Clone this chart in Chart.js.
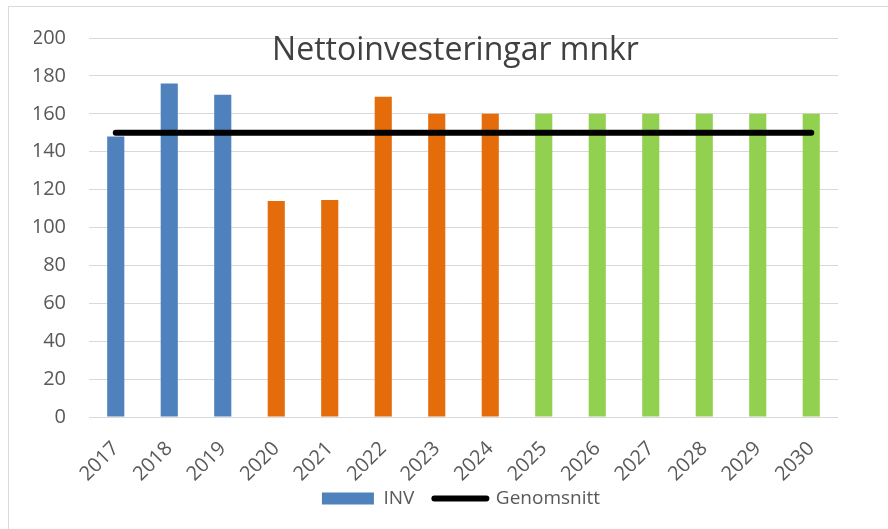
<!DOCTYPE html>
<html>
<head>
<meta charset="utf-8">
<script src="https://cdn.jsdelivr.net/npm/chart.js@4/dist/chart.umd.min.js"></script>
<style>
  html, body { margin: 0; padding: 0; background: #ffffff; overflow: hidden; }
  #wrap { position: relative; width: 888px; height: 529px; }
  #frame { position: absolute; left: 8px; top: 6px; width: 900px; height: 600px; border: 1px solid #d9d9d9; box-sizing: border-box; }
  canvas { position: absolute; left: 0; top: 0; }
</style>
</head>
<body>
<div id="wrap">
  <div id="frame"></div>
  <canvas id="c" width="888" height="529"></canvas>
</div>
<script>
const categories = ['2017','2018','2019','2020','2021','2022','2023','2024','2025','2026','2027','2028','2029','2030'];
const invValues = [148, 176, 170, 114, 114.5, 169, 160, 160, 160, 160, 160, 160, 160, 160];
const averageValues = [150, 150, 150, 150, 150, 150, 150, 150, 150, 150, 150, 150, 150, 150];
const yTicks = [0, 20, 40, 60, 80, 100, 120, 140, 160, 180, 200];
const chartTitle = 'Nettoinvesteringar mnkr';
const seriesNames = ['INV', 'Genomsnitt'];

const BLUE = '#4F81BD', ORANGE = '#E46C0A', GREEN = '#92D050';
const barColors = [BLUE, BLUE, BLUE, ORANGE, ORANGE, ORANGE, ORANGE, ORANGE, GREEN, GREEN, GREEN, GREEN, GREEN, GREEN];

const FONT = "'Open Sans', 'Liberation Sans', sans-serif";

const titlePlugin = {
  id: 'innerTitle',
  afterLayout(chart) {
    // lift the legend row a little, closer to the axis labels
    const lg = chart.legend;
    if (lg) { lg.top -= 16; lg.bottom -= 16; }
  },
  afterDatasetsDraw(chart) {
    const ctx = chart.ctx;
    const a = chart.chartArea;
    ctx.save();
    ctx.font = '32px ' + FONT;
    ctx.fillStyle = '#404040';
    ctx.textAlign = 'center';
    ctx.textBaseline = 'middle';
    ctx.fillText(chartTitle, (a.left + a.right) / 2 - 8, a.top + 13);
    ctx.restore();
  }
};

new Chart(document.getElementById('c'), {
  data: {
    labels: categories,
    datasets: [
      {
        type: 'line',
        label: seriesNames[1],
        data: averageValues,
        borderColor: '#000000',
        backgroundColor: '#000000',
        borderWidth: 6,
        borderCapStyle: 'round',
        pointRadius: 0,
        pointHoverRadius: 0,
        fill: false,
        order: 0
      },
      {
        type: 'bar',
        label: seriesNames[0],
        data: invValues,
        backgroundColor: barColors,
        borderWidth: 0,
        barPercentage: 0.32,
        categoryPercentage: 1.0,
        order: 1
      }
    ]
  },
  options: {
    responsive: false,
    animation: false,
    devicePixelRatio: 1,
    layout: { padding: { left: 34, right: 0, top: 38, bottom: 0 } },
    plugins: {
      title: { display: false },
      tooltip: { enabled: false },
      legend: {
        position: 'bottom',
        maxHeight: 44,
        labels: {
          font: { family: FONT, size: 19 },
          color: '#595959',
          usePointStyle: true,
          pointStyleWidth: 52,
          boxHeight: 12,
          padding: 20,
          generateLabels(chart) {
            return [
              { text: seriesNames[0], fillStyle: BLUE, strokeStyle: BLUE, lineWidth: 0, pointStyle: 'rect', datasetIndex: 1, fontColor: '#595959' },
              { text: seriesNames[1], fillStyle: '#000000', strokeStyle: '#000000', lineWidth: 6, lineCap: 'round', pointStyle: 'line', datasetIndex: 0, fontColor: '#595959' }
            ];
          }
        }
      }
    },
    scales: {
      x: {
        offset: true,
        grid: { display: false },
        border: { display: false },
        ticks: {
          font: { family: FONT, size: 20 },
          color: '#595959',
          minRotation: 45,
          maxRotation: 45,
          padding: 12
        },
        afterFit(scale) { scale.height = 68; }
      },
      y: {
        min: 0,
        max: 200,
        afterBuildTicks(scale) { scale.ticks = yTicks.map(v => ({ value: v })); },
        grid: { color: '#d9d9d9', lineWidth: 1, drawTicks: false },
        border: { display: false },
        ticks: {
          font: { family: FONT, size: 20 },
          color: '#595959',
          padding: 23
        },
        afterFit(scale) { scale.width = 55; }
      },
      yRight: {
        position: 'right',
        min: 0,
        max: 200,
        grid: { display: false, drawTicks: false },
        border: { display: false },
        ticks: { display: false },
        afterFit(scale) { scale.width = 50; }
      }
    }
  },
  plugins: [titlePlugin]
});
</script>
</body>
</html>
